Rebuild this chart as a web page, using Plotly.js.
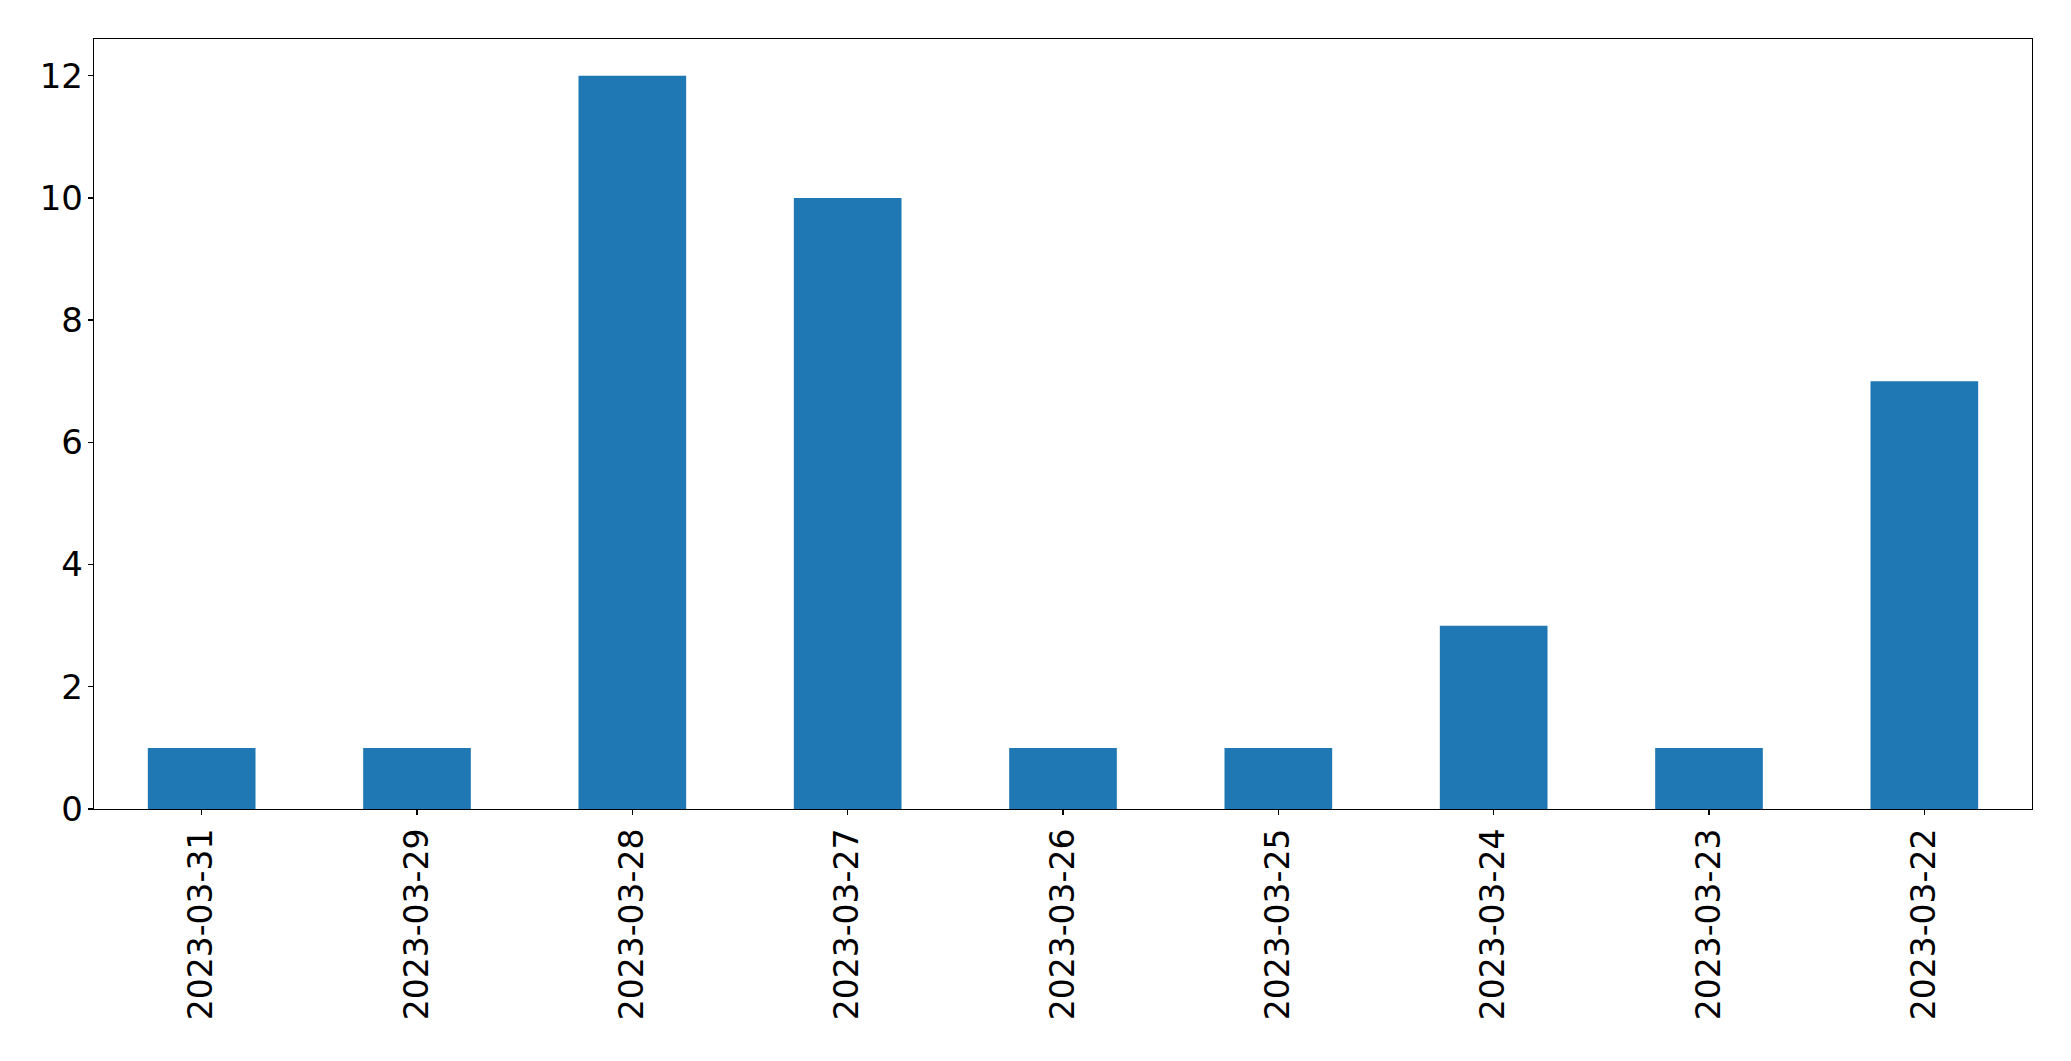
<!DOCTYPE html>
<html>
<head>
<meta charset="utf-8">
<script src="https://cdn.plot.ly/plotly-3.0.1.min.js"></script>
<style>html,body{margin:0;padding:0;background:#fff;}#chart{width:2071px;height:1061px;}</style>
</head>
<body>
<div id="chart"></div>
<script>
const dates = ["2023-03-31","2023-03-29","2023-03-28","2023-03-27","2023-03-26","2023-03-25","2023-03-24","2023-03-23","2023-03-22"];
const counts = [1, 1, 12, 10, 1, 1, 3, 1, 7];
const yTicks = [0, 2, 4, 6, 8, 10, 12];

const trace = {
  type: "bar",
  x: dates,
  y: counts,
  width: 0.5,
  marker: {color: "#1f77b4", line: {width: 0}},
  hoverinfo: "x+y"
};

const yFont = {family: "DejaVu Sans, sans-serif", size: 34, color: "#000"};
const xFont = {family: "DejaVu Sans, sans-serif", size: 33, color: "#000"};

const layout = {
  width: 2071,
  height: 1061,
  margin: {l: 94, r: 39, t: 39, b: 252, pad: 0},
  paper_bgcolor: "#fff",
  plot_bgcolor: "#fff",
  showlegend: false,
  bargap: 0.5,
  xaxis: {
    type: "category",
    range: [-0.5, dates.length - 0.5],
    showgrid: false,
    zeroline: false,
    showline: true,
    mirror: true,
    linecolor: "#000",
    linewidth: 1.3,
    ticks: "outside",
    ticklen: 5,
    tickwidth: 1.3,
    tickcolor: "#000",
    tickangle: -90,
    tickfont: xFont,
    ticklabelstandoff: 0
  },
  yaxis: {
    range: [0, 12.6],
    tickvals: yTicks,
    ticktext: yTicks.map(String),
    showgrid: false,
    zeroline: false,
    showline: true,
    mirror: true,
    linecolor: "#000",
    linewidth: 1.3,
    ticks: "outside",
    ticklen: 5,
    tickwidth: 1.3,
    tickcolor: "#000",
    tickfont: yFont,
    ticklabelstandoff: -2
  }
};

Plotly.newPlot("chart", [trace], layout, {displayModeBar: false, staticPlot: true});
</script>
</body>
</html>
